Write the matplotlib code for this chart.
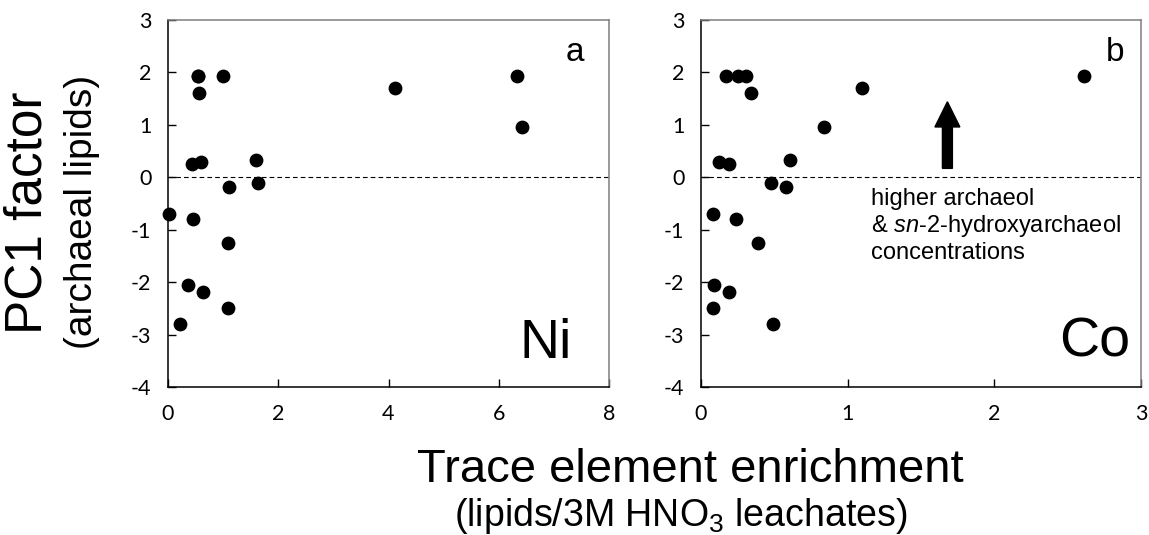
import numpy as np
import matplotlib
matplotlib.use("Agg")
import matplotlib.pyplot as plt

plt.rcParams['font.family'] = ['Liberation Sans', 'DejaVu Sans']
plt.rcParams['mathtext.fontset'] = 'custom'
plt.rcParams['mathtext.rm'] = 'Liberation Sans'
plt.rcParams['mathtext.it'] = 'Liberation Sans:italic'
plt.rcParams['axes.unicode_minus'] = False

# PC1 factor (archaeal lipids) vs. Ni enrichment
ni_x = [0.54, 0.54, 1.00, 0.56, 4.12, 6.34, 6.42, 0.59, 0.44, 1.59, 1.11, 1.63,
        0.02, 0.45, 1.09, 0.36, 0.64, 1.08, 0.22]
ni_y = [1.94, 1.94, 1.94, 1.61, 1.71, 1.94, 0.95, 0.29, 0.25, 0.33, -0.19, -0.10,
        -0.70, -0.79, -1.25, -2.06, -2.18, -2.50, -2.79]

# PC1 factor vs. Co enrichment
co_x = [0.17, 0.25, 0.31, 0.34, 1.10, 2.61, 0.84, 0.12, 0.19, 0.61, 0.48, 0.58,
        0.08, 0.24, 0.39, 0.09, 0.19, 0.08, 0.49]
co_y = [1.94, 1.94, 1.94, 1.61, 1.71, 1.94, 0.95, 0.29, 0.25, 0.33, -0.10, -0.19,
        -0.70, -0.79, -1.25, -2.06, -2.18, -2.50, -2.79]

yticks = [-4, -3, -2, -1, 0, 1, 2, 3]
ni_xticks = [0, 2, 4, 6, 8]
co_xticks = [0, 1, 2, 3]

W, H = 1149, 535
fig = plt.figure(figsize=(W / 100, H / 100), dpi=100)
ax1 = fig.add_axes([168 / W, 1 - 387 / H, 441 / W, 367 / H])
ax2 = fig.add_axes([701 / W, 1 - 387 / H, 440 / W, 367 / H])

tickfont = dict(fontfamily=['Lato', 'DejaVu Sans'], fontsize=15.5)


def style(ax, xt, xmax):
    ax.set_xlim(0, xmax)
    ax.set_ylim(-4, 3)
    ax.set_xticks(xt)
    ax.set_xticklabels([str(v) for v in xt], **tickfont)
    ax.set_yticks(yticks)
    ax.set_yticklabels([str(v) for v in yticks], **tickfont)
    ax.tick_params(direction='in', length=6, width=1, colors='black', pad=12)
    for s in ['left', 'bottom']:
        ax.spines[s].set_color('black')
        ax.spines[s].set_linewidth(1.1)
    for s in ['top', 'right']:
        ax.spines[s].set_color('#7f7f7f')
        ax.spines[s].set_linewidth(1.1)
    ax.axhline(0, color='black', lw=0.8, dashes=(4.2, 2.8), zorder=1)


style(ax1, ni_xticks, 8)
style(ax2, co_xticks, 3)

ax1.scatter(ni_x, ni_y, s=80, color='black', zorder=3, clip_on=False)
ax2.scatter(co_x, co_y, s=80, color='black', zorder=3, clip_on=False)

ax1.text(0.923, 0.888, 'a', transform=ax1.transAxes, ha='center', va='baseline', fontsize=24)
ax2.text(0.941, 0.888, 'b', transform=ax2.transAxes, ha='center', va='baseline', fontsize=24)
ax1.text(0.916, 0.079, 'Ni', transform=ax1.transAxes, ha='right', va='baseline', fontsize=40)
ax2.text(0.975, 0.082, 'Co', transform=ax2.transAxes, ha='right', va='baseline', fontsize=40)

# arrow + note
ax2.arrow(1.68, 0.17, 0, 1.27, width=0.068, head_width=0.17, head_length=0.48,
          length_includes_head=True, color='black', zorder=2)
ax2.text(1.16, -0.2, 'higher archaeol\n& $\\mathit{sn}$-2-hydroxyarchaeol\nconcentrations',
         ha='left', va='top', fontsize=17, linespacing=1.17, family='Liberation Sans')

fig.text(28 / W, 1 - 213 / H, 'PC1 factor', rotation=90, ha='center', va='center', fontsize=37)
fig.text(82 / W, 1 - 212 / H, '(archaeal lipids)', rotation=90, ha='center', va='center', fontsize=28)
fig.text(690 / W, 1 - 482 / H, 'Trace element enrichment', ha='center', va='baseline', fontsize=34)
fig.text(681 / W, 1 - 526 / H, '(lipids/3M HNO$_3$ leachates)', ha='center', va='baseline', fontsize=27)

fig.savefig('out.png', dpi=100)
